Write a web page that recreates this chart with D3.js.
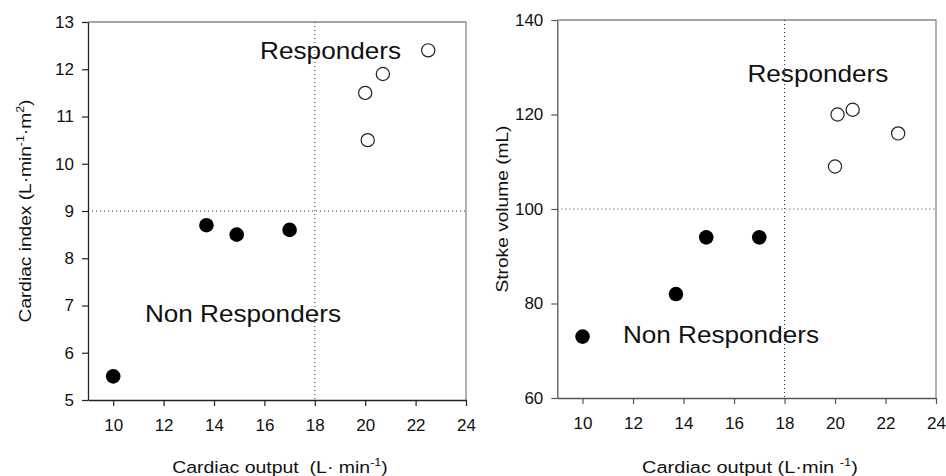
<!DOCTYPE html>
<html>
<head>
<meta charset="utf-8">
<script src="https://cdn.jsdelivr.net/npm/d3@7"></script>
<style>
  body { margin: 0; background: #fff; }
  svg text { font-family: Arial, "Liberation Sans", sans-serif; fill: #111; }
</style>
</head>
<body>
<svg id="chart" width="946" height="476"></svg>
<script>
// cardiac output (x) shared by both panels
const xTicks = [10, 12, 14, 16, 18, 20, 22, 24];

// non responders (filled) / responders (open)
const nonRespCO = [10, 13.7, 14.9, 17];
const nonRespCI = [5.5, 8.7, 8.5, 8.6];
const nonRespSV = [73, 82, 94, 94];

const respCO_CI = [20, 20.7, 22.5, 20.1];
const respCI = [11.5, 11.9, 12.4, 10.5];
const respCO_SV = [20, 20.1, 20.7, 22.5];
const respSV = [109, 120, 121, 116];

const ciTicks = [5, 6, 7, 8, 9, 10, 11, 12, 13];
const svTicks = [60, 80, 100, 120, 140];

const svg = d3.select("#chart");

// stretch a text horizontally so it spans the given width (the source figure is a bit wide)
function fitWidth(text, width) {
    const w = text.node().getBBox().width;
    text.attr("transform", `scale(${width / w},1)`);
}

function addTitle(g, parts, cx, cy, rotate, width) {
    const holder = g.append("g")
        .attr("transform", `translate(${cx},${cy})` + (rotate ? " rotate(-90)" : ""));
    const t = holder.append("text")
        .attr("text-anchor", "middle")
        .attr("font-size", 17)
        .attr("xml:space", "preserve");
    parts.forEach(p => {
        const s = t.append("tspan").text(p.t);
        if (p.sup) s.attr("dy", -7).attr("font-size", 11);
        if (p.down) s.attr("dy", 7);
    });
    fitWidth(t, width);
}

function drawPanel(opt) {
    const g = svg.append("g");
    const x = d3.scaleLinear().domain([9, 24]).range([opt.left, opt.right]);
    const y = d3.scaleLinear().domain(opt.yDomain).range([opt.bottom, opt.top]);

    // frame (top + right)
    g.append("path")
        .attr("d", `M${opt.left},${opt.top}H${opt.right}V${opt.bottom}`)
        .attr("fill", "none")
        .attr("stroke", opt.frameColor)
        .attr("stroke-width", 1.3);

    // threshold lines
    g.append("line")
        .attr("x1", x(18)).attr("x2", x(18))
        .attr("y1", opt.top).attr("y2", opt.bottom)
        .attr("stroke", "#333").attr("stroke-width", 1)
        .attr("stroke-dasharray", "1,3");
    g.append("line")
        .attr("x1", opt.left).attr("x2", opt.right)
        .attr("y1", y(opt.threshold)).attr("y2", y(opt.threshold))
        .attr("stroke", "#333").attr("stroke-width", 1)
        .attr("stroke-dasharray", "1,3");

    // axes
    const xAxis = g.append("g")
        .attr("transform", `translate(0,${opt.bottom})`)
        .call(d3.axisBottom(x).tickValues(xTicks).tickSize(6).tickPadding(13).tickSizeOuter(0));
    const yAxis = g.append("g")
        .attr("transform", `translate(${opt.left},0)`)
        .call(d3.axisLeft(y).tickValues(opt.yTicks).tickSize(6).tickPadding(8).tickSizeOuter(0));
    [xAxis, yAxis].forEach(a => {
        a.attr("font-size", 17).attr("font-family", null);
        a.select(".domain").attr("stroke", opt.axisColor).attr("stroke-width", 1.3);
        a.selectAll(".tick line").attr("stroke", opt.axisColor).attr("stroke-width", 1.2);
        a.selectAll(".tick text").attr("fill", "#111");
    });

    // points
    g.selectAll(".filled")
        .data(opt.filledX.map((v, i) => [v, opt.filledY[i]]))
        .join("circle")
        .attr("cx", d => x(d[0]))
        .attr("cy", d => y(d[1]))
        .attr("r", 7.3)
        .attr("fill", "#000");
    g.selectAll(".open")
        .data(opt.openX.map((v, i) => [v, opt.openY[i]]))
        .join("circle")
        .attr("cx", d => x(d[0]))
        .attr("cy", d => y(d[1]))
        .attr("r", 6.6)
        .attr("fill", "#fff")
        .attr("stroke", "#222")
        .attr("stroke-width", 1.2);

    // group labels
    g.append("text")
        .attr("x", x(opt.respLabel[0])).attr("y", y(opt.respLabel[1]))
        .attr("font-size", 24)
        .attr("textLength", 141).attr("lengthAdjust", "spacingAndGlyphs")
        .text("Responders");
    g.append("text")
        .attr("x", x(opt.nonLabel[0])).attr("y", y(opt.nonLabel[1]))
        .attr("font-size", 24.5)
        .attr("textLength", 196).attr("lengthAdjust", "spacingAndGlyphs")
        .text("Non Responders");

    addTitle(g, opt.xTitle, opt.xTitleX, 473, false, 216);
    addTitle(g, opt.yTitle, opt.yTitleX, (opt.top + opt.bottom) / 2, true, opt.yTitleW);
}

drawPanel({
    left: 88, right: 466, top: 22, bottom: 400,
    yDomain: [5, 13], yTicks: ciTicks, threshold: 9,
    filledX: nonRespCO, filledY: nonRespCI,
    openX: respCO_CI, openY: respCI,
    respLabel: [15.83, 12.21], nonLabel: [11.26, 6.66],
    frameColor: "#888", axisColor: "#222",
    xTitleX: 280,
    xTitle: [
        { t: "Cardiac output  (L\u00B7 min" },
        { t: "-1", sup: true },
        { t: ")", down: true }
    ],
    yTitleX: 31, yTitleW: 223,
    yTitle: [
        { t: "Cardiac index (L\u00B7min" },
        { t: "-1", sup: true },
        { t: "\u00B7m", down: true },
        { t: "2", sup: true },
        { t: ")", down: true }
    ]
});

drawPanel({
    left: 557.3, right: 936, top: 20, bottom: 398,
    yDomain: [60, 140], yTicks: svTicks, threshold: 100,
    filledX: nonRespCO, filledY: nonRespSV,
    openX: respCO_SV, openY: respSV,
    respLabel: [16.53, 126.9], nonLabel: [11.6, 71.6],
    frameColor: "#888", axisColor: "#555",
    xTitleX: 750,
    xTitle: [
        { t: "Cardiac output (L\u00B7min " },
        { t: "-1", sup: true },
        { t: ")", down: true }
    ],
    yTitleX: 508, yTitleW: 167,
    yTitle: [{ t: "Stroke volume (mL)" }]
});
</script>
</body>
</html>
